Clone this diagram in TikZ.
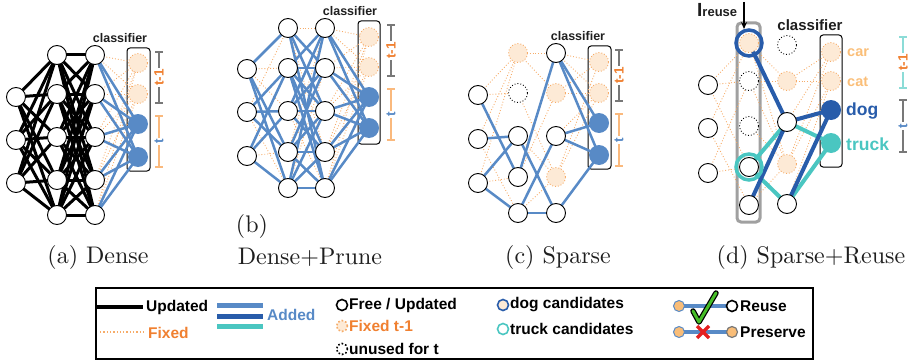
\documentclass[tikz,border=0pt]{standalone}
\usepackage{fontspec}
\newfontfamily\lsans{Liberation Sans}
\newfontfamily\capfont{lmroman10-regular.otf}
\usetikzlibrary{arrows.meta}
\definecolor{bluec}{RGB}{88,138,198}
\definecolor{dblue}{RGB}{40,92,170}
\definecolor{tealc}{RGB}{74,198,193}
\definecolor{fixo}{RGB}{246,172,105}
\definecolor{fixfill}{RGB}{253,234,214}
\definecolor{orangeT}{RGB}{240,128,48}
\definecolor{lorange}{RGB}{250,190,120}
\definecolor{brackO}{RGB}{250,185,125}
\definecolor{brackT}{RGB}{140,220,215}
\definecolor{grayc}{RGB}{120,120,120}
\definecolor{boxgray}{RGB}{160,160,160}
\definecolor{greenc}{RGB}{70,190,40}
\definecolor{redc}{RGB}{228,32,32}
\definecolor{txtc}{RGB}{30,30,30}
\definecolor{legorange}{RGB}{249,189,120}
\newcommand{\brk}[6]{%
  \draw[#4,line width=1.2pt] (#1-4,#2) -- (#1+4,#2) (#1,#2) -- (#1,#3) (#1-4,#3) -- (#1+4,#3);
  \node[fill=white,inner sep=1.5pt,rotate=90,text=#6,font=\lsans\bfseries\fontsize{13.5}{15}\selectfont] at (#1,{(#2+#3)/2}) {#5};}
\begin{document}
\begin{tikzpicture}[x=1pt,y=-1pt,
  nfree/.style={circle,draw=black,line width=0.9pt,fill=white,minimum size=19pt,inner sep=0pt},
  nfix/.style={circle,draw=fixo,line width=0.9pt,dotted,fill=fixfill,minimum size=19pt,inner sep=0pt},
  nuse/.style={circle,draw=black,line width=0.9pt,dotted,fill=white,minimum size=19pt,inner sep=0pt},
  nblu/.style={circle,fill=bluec,minimum size=20pt,inner sep=0pt},
  clsbox/.style={draw=black,line width=1pt,rounded corners=3pt},
  lbl/.style={font=\lsans\bfseries\fontsize{12.5}{14}\selectfont,text=txtc},
  leg/.style={font=\lsans\bfseries\fontsize{15.5}{17}\selectfont,anchor=west,inner sep=0pt},
  captxt/.style={font=\capfont\fontsize{24}{28}\selectfont,text=txtc},
  eblk/.style={line width=3pt,black},
  eblu/.style={line width=2.5pt,bluec},
  edot/.style={line width=0.9pt,fixo,dotted},
  edb/.style={line width=4pt,dblue},
  etl/.style={line width=4pt,tealc}]
\useasboundingbox (0,0) rectangle (915,361);

%%%%%%%%%%%%%%%% (a) Dense
\draw[clsbox] (127,48) rectangle (150,171);
\foreach \i/\y in {1/97,2/140,3/183} \coordinate (a1\i) at (16,\y);
\foreach \i/\y in {1/55,2/94,3/137,4/180,5/215} {\coordinate (a2\i) at (57,\y); \coordinate (a3\i) at (95,\y);}
\foreach \i/\y in {1/63,2/94,3/124,4/157} \coordinate (ac\i) at (138,\y);
\foreach \i in {1,2,3} \foreach \j in {1,...,5} \draw[eblk] (a1\i) -- (a2\j);
\foreach \i in {1,...,5} \foreach \j in {1,...,5} \draw[eblk] (a2\i) -- (a3\j);
\foreach \i in {1,...,5} {\draw[edot] (a3\i) -- (ac1); \draw[edot] (a3\i) -- (ac2);}
\foreach \i in {1,...,5} {\draw[eblu] (a3\i) -- (ac3); \draw[eblu] (a3\i) -- (ac4);}
\foreach \i in {1,2,3} \node[nfree] at (a1\i) {};
\foreach \i in {1,...,5} {\node[nfree] at (a2\i) {}; \node[nfree] at (a3\i) {};}
\node[nfix] at (ac1) {}; \node[nfix] at (ac2) {};
\node[nblu] at (ac3) {}; \node[nblu] at (ac4) {};
\node[lbl] (alab) at (120,38) {classifier};
\brk{159}{52}{103}{grayc}{t-1}{orangeT}
\brk{159}{116}{167}{brackO}{t}{bluec}
\node[captxt] (acap) at (98,257) {(a) Dense};

%%%%%%%%%%%%%%%% (b) Dense+Prune
\draw[clsbox] (358,21) rectangle (380,144);
\foreach \i/\y in {1/69,2/112,3/156} \coordinate (b1\i) at (247,\y);
\foreach \i/\y in {1/28,2/68,3/111,4/152,5/188} {\coordinate (b2\i) at (288,\y); \coordinate (b3\i) at (325,\y);}
\foreach \i/\y in {1/37,2/67,3/97,4/128} \coordinate (bc\i) at (369,\y);
\foreach \a/\b in {1/2,2/1,3/4,1/3,2/5} \draw[edot] (b1\a) -- (b2\b);
\foreach \a/\b in {1/1,4/1,5/2,1/4,3/5} \draw[edot] (b2\a) -- (b3\b);
\foreach \i in {1,...,5} {\draw[edot] (b3\i) -- (bc1); \draw[edot] (b3\i) -- (bc2);}
\foreach \a/\b in {1/1,1/4,1/5,2/2,2/3,2/4,3/2,3/3,3/5} \draw[eblu] (b1\a) -- (b2\b);
\foreach \a/\b in {1/2,1/3,1/5,2/1,2/2,2/3,2/4,2/5,3/1,3/2,3/3,3/4,4/2,4/3,4/4,4/5,5/1,5/3,5/4,5/5} \draw[eblu] (b2\a) -- (b3\b);
\foreach \i in {1,...,5} {\draw[eblu] (b3\i) -- (bc3); \draw[eblu] (b3\i) -- (bc4);}
\foreach \i in {1,2,3} \node[nfree] at (b1\i) {};
\foreach \i in {1,...,5} {\node[nfree] at (b2\i) {}; \node[nfree] at (b3\i) {};}
\node[nfix] at (bc1) {}; \node[nfix] at (bc2) {};
\node[nblu] at (bc3) {}; \node[nblu] at (bc4) {};
\node[lbl] (blab) at (350,11) {classifier};
\brk{391}{25}{76}{grayc}{t-1}{orangeT}
\brk{391}{89}{140}{brackO}{t}{bluec}
\node[captxt] (bcapb) at (252,226) {(b)};
\node[captxt] (bcap) at (310,257) {Dense+Prune};

%%%%%%%%%%%%%%%% (c) Sparse
\draw[clsbox] (588,46) rectangle (611,169);
\foreach \i/\y in {1/95,2/139,3/183} \coordinate (c1\i) at (478,\y);
\foreach \i/\y in {1/53,2/93,3/136,4/177,5/213} {\coordinate (c2\i) at (518,\y); \coordinate (c3\i) at (556,\y);}
\foreach \i/\y in {1/62,2/93,3/123,4/155} \coordinate (cc\i) at (599,\y);
\foreach \a/\b in {1/1,1/2,2/1,2/5,3/1,3/4} \draw[edot] (c1\a) -- (c2\b);
\foreach \a/\b in {1/1,1/2,2/4,4/2,5/4,3/4} \draw[edot] (c2\a) -- (c3\b);
\foreach \a/\b in {1/1,1/2,2/1,2/2,3/2,4/1,4/2} \draw[edot] (c3\a) -- (cc\b);
\foreach \a/\b in {1/4,2/3,3/3,3/5} \draw[eblu] (c1\a) -- (c2\b);
\foreach \a/\b in {3/5,4/1,5/3,5/5} \draw[eblu] (c2\a) -- (c3\b);
\foreach \a/\b in {1/3,1/4,3/3,3/4,5/4} \draw[eblu] (c3\a) -- (cc\b);
\foreach \i in {1,2,3} \node[nfree] at (c1\i) {};
\node[nfix] at (c21) {}; \node[nuse] at (c22) {};
\foreach \i in {3,4,5} \node[nfree] at (c2\i) {};
\node[nfree] at (c31) {}; \node[nfix] at (c32) {}; \node[nfree] at (c33) {};
\node[nfix] at (c34) {}; \node[nfree] at (c35) {};
\node[nfix] at (cc1) {}; \node[nfix] at (cc2) {};
\node[nblu] at (cc3) {}; \node[nblu] at (cc4) {};
\node[lbl] (clab) at (578,36) {classifier};
\brk{619}{50}{101}{grayc}{t-1}{orangeT}
\brk{619}{114}{166}{brackO}{t}{bluec}
\node[captxt] (ccap) at (558,257) {(c) Sparse};

%%%%%%%%%%%%%%%% (d) Sparse+Reuse
\draw[boxgray,line width=3pt,rounded corners=4pt] (737,23) rectangle (760,222);
\draw[clsbox] (820,35) rectangle (842,167);
\foreach \i/\y in {1/85,2/128,3/173} \coordinate (d1\i) at (708,\y);
\foreach \i/\y in {1/43,2/81,3/126,4/167,5/205} \coordinate (d2\i) at (749,\y);
\foreach \i/\y in {1/45,2/81,3/122,4/164,5/204} \coordinate (d3\i) at (787,\y);
\foreach \i/\y in {1/52,2/81,3/110,4/143} \coordinate (dc\i) at (831,\y);
\foreach \a/\b in {1/1,1/2,2/1,2/5,3/4,3/2,1/4} \draw[edot] (d1\a) -- (d2\b);
\foreach \a/\b in {1/2,2/2,2/4,3/4,5/4,1/4} \draw[edot] (d2\a) -- (d3\b);
\foreach \a/\b in {2/1,2/2,4/1,4/2,3/1,5/2} \draw[edot] (d3\a) -- (dc\b);
\draw[etl] (d24) -- (d33); \draw[etl] (d24) -- (d35);
\draw[etl] (d33) -- (dc4); \draw[etl] (d35) -- (dc4);
\draw[edb] (d21) -- (d33); \draw[edb] (d25) -- (d33);
\draw[edb] (d33) -- (dc3); \draw[edb] (d35) -- (dc3);
\foreach \i in {1,2,3} \node[nfree] at (d1\i) {};
\node[nfix] at (d21) {}; \node[nuse] at (d22) {}; \node[nuse] at (d23) {};
\node[nfree] at (d24) {}; \node[nfree] at (d25) {};
\node[circle,draw=dblue,line width=3.5pt,minimum size=26pt,inner sep=0pt] (ring1) at (d21) {};
\node[circle,draw=tealc,line width=3.5pt,minimum size=26pt,inner sep=0pt] (ring2) at (d24) {};
\node[nuse] at (d31) {}; \node[nfix] at (d32) {}; \node[nfree] at (d33) {};
\node[nfix] at (d34) {}; \node[nfree] at (d35) {};
\node[nfix] at (dc1) {}; \node[nfix] at (dc2) {};
\node[circle,fill=dblue,minimum size=20pt,inner sep=0pt] at (dc3) {};
\node[circle,fill=tealc,minimum size=20pt,inner sep=0pt] at (dc4) {};
\node[font=\lsans\bfseries\fontsize{14.5}{16}\selectfont,text=lorange,anchor=west,inner sep=0pt] (lcar) at (847,53) {car};
\node[font=\lsans\bfseries\fontsize{14.5}{16}\selectfont,text=lorange,anchor=west,inner sep=0pt] (lcat) at (847,82) {cat};
\node[font=\lsans\bfseries\fontsize{17.5}{19}\selectfont,text=dblue,anchor=west,inner sep=0pt] (ldog) at (846,111) {dog};
\node[font=\lsans\bfseries\fontsize{17.5}{19}\selectfont,text=tealc,anchor=west,inner sep=0pt] (ltruck) at (846,144) {truck};
\node[font=\lsans\bfseries\fontsize{15}{17}\selectfont,text=txtc] (dlab) at (810,25) {classifier};
\brk{903}{37}{88}{brackT}{t-1}{orangeT}
\brk{903}{100}{152}{grayc}{t}{bluec}
\node[anchor=base west,inner sep=0pt,text=txtc] (reuse) at (697,17) {\lsans\bfseries\fontsize{19}{20}\selectfont I\fontsize{13}{14}\selectfont reuse};
\coordinate (arrS) at (744,2);
\coordinate (arrE) at (744,29);
\draw[-{Stealth[length=7pt,width=6pt]},line width=1.4pt] (arrS) -- (arrE);
\node[captxt] (dcap) at (811,257) {(d) Sparse+Reuse};

%%%%%%%%%%%%%%%% Legend
\draw[line width=2pt] (96,288) rectangle (813,359);
\coordinate (lu1) at (96,307); \coordinate (lu2) at (143,307);
\draw[line width=4.5pt] (lu1) -- (lu2);
\node[leg] (tupd) at (146,307) {Updated};
\coordinate (lf1) at (100,332); \coordinate (lf2) at (145,332);
\draw[line width=1.3pt,fixo,dotted] (lf1) -- (lf2);
\node[leg,text=orangeT] (tfix) at (148,333) {Fixed};
\coordinate (ba1) at (217,305); \coordinate (ba2) at (263,305);
\coordinate (bb1) at (217,316); \coordinate (bb2) at (263,316);
\coordinate (bt1) at (217,326); \coordinate (bt2) at (263,326);
\draw[line width=5pt,bluec] (ba1) -- (ba2);
\draw[line width=5pt,dblue] (bb1) -- (bb2);
\draw[line width=5pt,tealc] (bt1) -- (bt2);
\node[leg,text=bluec] (tadd) at (267,315) {Added};
\node[circle,draw=black,line width=1.6pt,minimum size=11pt,inner sep=0pt] (cfree) at (342,305) {};
\node[leg] (tfree) at (349,305) {Free / Updated};
\node[circle,draw=fixo,line width=1.6pt,dotted,fill=fixfill,minimum size=11pt,inner sep=0pt] (cfixed) at (342,326) {};
\node[leg,text=orangeT] (tfixed) at (349,326) {Fixed t-1};
\node[circle,draw=black,line width=1.6pt,dotted,minimum size=11pt,inner sep=0pt] (cunused) at (342,349) {};
\node[leg] (tunused) at (349,349) {unused for t};
\node[circle,draw=dblue,line width=1.6pt,fill=fixfill,minimum size=11pt,inner sep=0pt] (cdog) at (503,305) {};
\node[leg] (tdog) at (510,305) {dog candidates};
\node[circle,draw=tealc,line width=1.6pt,fill=white,minimum size=11pt,inner sep=0pt] (ctruck) at (503,329) {};
\node[leg] (ttruck) at (510,329) {truck candidates};
% reuse
\coordinate (r1) at (679,306); \coordinate (r2) at (732,306);
\draw[line width=4.5pt,bluec] (r1) -- (r2);
\node[circle,draw=bluec,line width=1pt,fill=legorange,minimum size=11pt,inner sep=0pt] (ro) at (r1) {};
\node[circle,draw=black,line width=1.6pt,fill=white,minimum size=11pt,inner sep=0pt] (rb) at (r2) {};
\coordinate (ck1) at (693,311); \coordinate (ck2) at (699,322); \coordinate (ck3) at (716,293);
\draw[line width=5.5pt,black,line join=round,line cap=round] (ck1) -- (ck2) -- (ck3);
\draw[line width=3pt,greenc,line join=round,line cap=round] (ck1) -- (ck2) -- (ck3);
\node[leg] (treuse) at (740,306) {Reuse};
% preserve
\coordinate (p1) at (679,332); \coordinate (p2) at (732,332);
\draw[line width=4.5pt,bluec] (p1) -- (p2);
\node[circle,draw=bluec,line width=1pt,fill=legorange,minimum size=11pt,inner sep=0pt] (po) at (p1) {};
\node[circle,draw=grayc,line width=1.2pt,fill=legorange,minimum size=11pt,inner sep=0pt] (pb) at (p2) {};
\coordinate (x1) at (697,326); \coordinate (x2) at (709,338);
\coordinate (x3) at (709,326); \coordinate (x4) at (697,338);
\draw[line width=3.5pt,redc] (x1) -- (x2) (x3) -- (x4);
\node[leg] (tpres) at (740,332) {Preserve};
\end{tikzpicture}
\end{document}
